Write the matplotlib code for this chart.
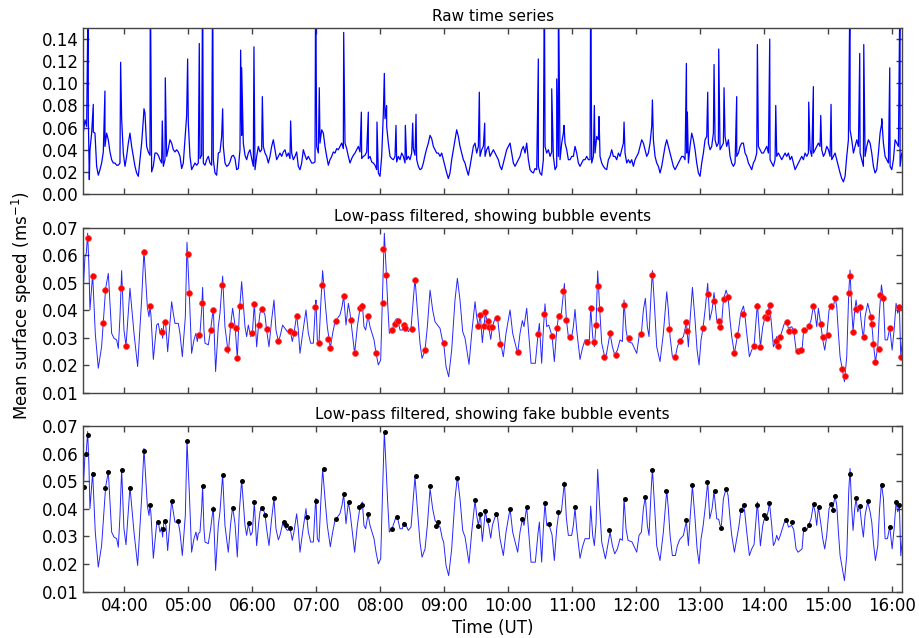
import numpy as np
import matplotlib
matplotlib.use('Agg')
import matplotlib.pyplot as plt

# raw surface speed, one sample every 93.75 s from 03:21:36 UT, in mm/s
raw_start = 3.36
raw_step = 93.75 / 3600.
raw_mms = [
    55, 67, 61, 70, 40, 55, 56, 55, 25, 17, 22, 28, 38, 43, 55, 49, 38, 31, 28, 28,
    26, 26, 28, 68, 37, 25, 34, 46, 55, 43, 34, 25, 19, 16, 31, 46, 67, 73, 43, 38,
    35, 20, 25, 37, 37, 35, 31, 28, 25, 31, 34, 41, 49, 46, 40, 38, 40, 38, 34, 23,
    28, 49, 71, 64, 34, 22, 25, 28, 26, 28, 32, 35, 28, 26, 31, 34, 28, 26, 31, 19,
    17, 37, 38, 52, 43, 28, 25, 26, 29, 34, 35, 32, 22, 23, 40, 53, 46, 35, 31, 37,
    40, 32, 25, 22, 34, 43, 38, 40, 43, 37, 34, 28, 34, 43, 49, 40, 31, 34, 37, 34,
    38, 40, 34, 37, 32, 37, 31, 34, 38, 25, 22, 28, 40, 35, 31, 34, 31, 28, 28, 29,
    43, 37, 46, 58, 55, 43, 34, 26, 31, 34, 38, 37, 41, 40, 43, 46, 41, 46, 41, 34,
    28, 32, 35, 37, 40, 43, 38, 32, 34, 35, 38, 32, 34, 29, 28, 26, 22, 19, 16, 34,
    73, 68, 61, 46, 34, 32, 31, 34, 29, 34, 31, 37, 34, 28, 31, 34, 31, 37, 41, 35,
    31, 25, 22, 23, 28, 35, 41, 46, 53, 50, 43, 40, 37, 37, 34, 37, 31, 25, 19, 14,
    19, 31, 40, 49, 58, 52, 43, 37, 31, 28, 22, 17, 25, 34, 43, 46, 37, 43, 34, 40,
    43, 34, 40, 43, 34, 37, 40, 37, 34, 31, 25, 22, 28, 34, 40, 43, 46, 37, 28, 25,
    28, 31, 34, 40, 43, 37, 46, 31, 22, 20, 19, 23, 22, 25, 19, 17, 31, 43, 37, 40,
    34, 38, 34, 22, 25, 34, 31, 46, 55, 46, 40, 31, 31, 34, 34, 43, 37, 28, 25, 28,
    31, 31, 34, 31, 31, 28, 34, 37, 52, 49, 34, 28, 25, 23, 22, 31, 34, 40, 34, 34,
    31, 37, 34, 40, 46, 37, 28, 31, 28, 31, 25, 31, 34, 37, 43, 49, 46, 40, 34, 37,
    46, 61, 49, 34, 28, 25, 19, 25, 34, 43, 49, 43, 37, 31, 25, 22, 25, 28, 31, 34,
    34, 31, 37, 28, 43, 55, 49, 40, 28, 19, 16, 28, 37, 49, 52, 46, 40, 43, 55, 49,
    43, 46, 40, 43, 46, 52, 43, 49, 34, 28, 25, 28, 34, 37, 43, 46, 46, 37, 34, 28,
    25, 22, 28, 31, 37, 43, 40, 37, 37, 40, 43, 37, 31, 28, 25, 31, 34, 37, 34, 31,
    34, 37, 34, 37, 31, 34, 28, 22, 25, 28, 31, 34, 31, 37, 34, 37, 40, 34, 37, 40,
    43, 46, 43, 40, 34, 37, 43, 40, 34, 31, 34, 37, 31, 25, 19, 14, 11, 16, 34, 49,
    58, 49, 37, 43, 49, 43, 37, 31, 25, 34, 43, 49, 46, 37, 25, 19, 22, 37, 55, 64,
    46, 34, 31, 28, 25, 22, 31, 49, 46, 43, 25, 37,
]

# single-sample spikes in the raw series (hour UT, m/s)
spike_hr = [3.438, 3.454, 3.516, 3.698, 3.943, 4.308, 4.407, 4.594, 4.641, 4.990,
            5.172, 5.224, 5.381, 5.537, 5.818, 5.834, 6.026, 6.157, 6.599, 6.990,
            7.047, 7.428, 7.704, 7.813, 7.948, 8.063, 8.099, 8.245, 8.391, 8.506,
            8.558, 9.547, 9.631, 10.469, 10.563, 10.678, 10.756, 10.782, 10.870, 11.287,
            11.344, 11.417, 11.808, 12.251, 12.782, 12.797, 13.115, 13.214, 13.287, 13.370,
            13.568, 13.891, 14.084, 14.178, 14.693, 14.766, 14.881, 15.042, 15.339, 15.490,
            15.553, 15.834, 15.959, 16.120]
spike_val = [0.200, 0.013, 0.081, 0.093, 0.119, 0.077, 0.200, 0.066, 0.105, 0.122,
             0.136, 0.200, 0.200, 0.077, 0.130, 0.114, 0.133, 0.088, 0.066, 0.200,
             0.096, 0.146, 0.074, 0.074, 0.065, 0.109, 0.080, 0.062, 0.062, 0.064,
             0.072, 0.092, 0.064, 0.122, 0.200, 0.095, 0.104, 0.200, 0.062, 0.200,
             0.080, 0.070, 0.065, 0.085, 0.118, 0.074, 0.092, 0.117, 0.131, 0.096,
             0.088, 0.135, 0.140, 0.080, 0.083, 0.097, 0.071, 0.081, 0.200, 0.127,
             0.135, 0.068, 0.114, 0.200]

# low-pass filtered speed (hour UT, m/s)
filt_hr = [
    3.360, 3.386, 3.407, 3.428, 3.448, 3.464, 3.506, 3.547, 3.594, 3.646,
    3.672, 3.709, 3.751, 3.803, 3.839, 3.881, 3.907, 3.933, 3.959, 3.995,
    4.027, 4.058, 4.089, 4.152, 4.209, 4.271, 4.308, 4.360, 4.386, 4.402,
    4.417, 4.454, 4.506, 4.532, 4.558, 4.584, 4.599, 4.620, 4.651, 4.678,
    4.740, 4.766, 4.792, 4.844, 4.870, 4.907, 4.954, 4.980, 5.016, 5.052,
    5.089, 5.120, 5.141, 5.157, 5.183, 5.209, 5.224, 5.245, 5.261, 5.313,
    5.349, 5.391, 5.427, 5.469, 5.495, 5.537, 5.573, 5.625, 5.662, 5.693,
    5.730, 5.766, 5.797, 5.834, 5.886, 5.912, 5.938, 5.975, 6.001, 6.032,
    6.068, 6.099, 6.120, 6.151, 6.198, 6.224, 6.261, 6.302, 6.339, 6.370,
    6.407, 6.433, 6.474, 6.547, 6.594, 6.625, 6.651, 6.693, 6.719, 6.745,
    6.787, 6.839, 6.876, 6.912, 6.954, 6.985, 6.995, 7.016, 7.042, 7.068,
    7.099, 7.136, 7.172, 7.219, 7.256, 7.292, 7.370, 7.402, 7.428, 7.464,
    7.501, 7.527, 7.563, 7.599, 7.641, 7.683, 7.719, 7.745, 7.771, 7.808,
    7.839, 7.902, 7.933, 7.969, 8.006, 8.032, 8.063, 8.089, 8.115, 8.141,
    8.183, 8.235, 8.266, 8.308, 8.344, 8.370, 8.402, 8.438, 8.480, 8.516,
    8.542, 8.579, 8.620, 8.652, 8.699, 8.735, 8.777, 8.818, 8.855, 8.933,
    8.969, 8.990, 9.027, 9.068, 9.115, 9.167, 9.204, 9.245, 9.287, 9.324,
    9.386, 9.428, 9.480, 9.506, 9.532, 9.563, 9.594, 9.620, 9.641, 9.662,
    9.694, 9.725, 9.751, 9.792, 9.829, 9.870, 9.922, 9.964, 10.027, 10.068,
    10.146, 10.183, 10.219, 10.245, 10.287, 10.318, 10.355, 10.422, 10.464, 10.485,
    10.521, 10.547, 10.573, 10.600, 10.631, 10.683, 10.719, 10.756, 10.787, 10.829,
    10.876, 10.907, 10.938, 10.990, 11.016, 11.042, 11.068, 11.120, 11.157, 11.198,
    11.266, 11.287, 11.318, 11.344, 11.370, 11.396, 11.428, 11.459, 11.516, 11.553,
    11.589, 11.626, 11.662, 11.704, 11.745, 11.782, 11.808, 11.839, 11.870, 11.933,
    12.006, 12.042, 12.079, 12.110, 12.141, 12.172, 12.198, 12.230, 12.251, 12.287,
    12.318, 12.370, 12.422, 12.475, 12.500, 12.527, 12.563, 12.610, 12.641, 12.678,
    12.735, 12.782, 12.813, 12.839, 12.876, 12.917, 12.949, 12.980, 13.011, 13.042,
    13.074, 13.115, 13.147, 13.183, 13.214, 13.256, 13.287, 13.308, 13.329, 13.360,
    13.402, 13.433, 13.464, 13.490, 13.532, 13.568, 13.600, 13.631, 13.673, 13.693,
    13.725, 13.766, 13.803, 13.839, 13.870, 13.891, 13.917, 13.938, 13.975, 14.011,
    14.037, 14.063, 14.079, 14.115, 14.141, 14.167, 14.193, 14.219, 14.245, 14.313,
    14.350, 14.376, 14.428, 14.459, 14.496, 14.527, 14.589, 14.610, 14.636, 14.662,
    14.693, 14.730, 14.766, 14.792, 14.818, 14.844, 14.881, 14.912, 14.943, 14.974,
    15.011, 15.042, 15.068, 15.105, 15.131, 15.157, 15.183, 15.219, 15.251, 15.287,
    15.318, 15.339, 15.365, 15.386, 15.412, 15.433, 15.459, 15.490, 15.522, 15.547,
    15.574, 15.615, 15.652, 15.678, 15.704, 15.735, 15.772, 15.797, 15.829, 15.860,
    15.886, 15.923, 15.959, 15.996, 16.027, 16.058, 16.084, 16.110, 16.131, 16.157,
]
filt_val = [
    .0480, .0595, .0607, .0680, .0558, .0401, .0532, .0316, .0189, .0267,
    .0355, .0480, .0534, .0316, .0298, .0292, .0261, .0376, .0544, .0328,
    .0270, .0376, .0480, .0316, .0195, .0437, .0619, .0413, .0376, .0415,
    .0382, .0221, .0346, .0352, .0316, .0334, .0298, .0358, .0340, .0249,
    .0431, .0389, .0352, .0352, .0316, .0231, .0376, .0647, .0461, .0243,
    .0292, .0316, .0286, .0310, .0316, .0401, .0483, .0328, .0280, .0274,
    .0328, .0407, .0177, .0340, .0389, .0524, .0340, .0243, .0346, .0407,
    .0346, .0226, .0389, .0504, .0340, .0304, .0346, .0304, .0316, .0425,
    .0267, .0347, .0389, .0407, .0383, .0328, .0267, .0364, .0437, .0328,
    .0288, .0304, .0346, .0322, .0326, .0286, .0316, .0382, .0328, .0243,
    .0316, .0401, .0316, .0280, .0280, .0413, .0437, .0292, .0280, .0413,
    .0544, .0437, .0340, .0263, .0316, .0358, .0383, .0413, .0452, .0346,
    .0425, .0389, .0316, .0243, .0340, .0408, .0425, .0340, .0328, .0380,
    .0340, .0292, .0244, .0201, .0219, .0437, .0680, .0558, .0425, .0316,
    .0327, .0364, .0370, .0328, .0328, .0352, .0340, .0322, .0334, .0437,
    .0516, .0401, .0280, .0225, .0255, .0340, .0473, .0401, .0358, .0334,
    .0292, .0280, .0195, .0158, .0255, .0437, .0516, .0437, .0322, .0298,
    .0203, .0316, .0431, .0376, .0341, .0383, .0282, .0343, .0392, .0364,
    .0340, .0294, .0340, .0370, .0377, .0292, .0231, .0316, .0401, .0316,
    .0243, .0316, .0362, .0340, .0407, .0316, .0207, .0207, .0312, .0352,
    .0207, .0328, .0423, .0340, .0346, .0306, .0213, .0328, .0383, .0389,
    .0497, .0366, .0304, .0304, .0340, .0403, .0328, .0221, .0261, .0292,
    .0292, .0410, .0304, .0267, .0345, .0543, .0403, .0280, .0219, .0267,
    .0316, .0267, .0237, .0255, .0292, .0286, .0437, .0328, .0286, .0280,
    .0243, .0304, .0316, .0401, .0443, .0340, .0304, .0461, .0544, .0401,
    .0267, .0213, .0316, .0467, .0401, .0304, .0231, .0231, .0267, .0289,
    .0304, .0356, .0267, .0364, .0483, .0364, .0255, .0201, .0292, .0336,
    .0401, .0498, .0364, .0401, .0464, .0364, .0362, .0340, .0340, .0437,
    .0473, .0449, .0364, .0304, .0243, .0292, .0334, .0389, .0415, .0389,
    .0316, .0231, .0255, .0271, .0364, .0425, .0340, .0266, .0340, .0375,
    .0370, .0395, .0425, .0340, .0267, .0280, .0304, .0286, .0301, .0352,
    .0358, .0334, .0340, .0324, .0255, .0243, .0255, .0316, .0334, .0322,
    .0341, .0364, .0415, .0389, .0340, .0407, .0349, .0292, .0255, .0304,
    .0401, .0415, .0401, .0446, .0413, .0316, .0231, .0182, .0140, .0231,
    .0463, .0546, .0401, .0322, .0401, .0437, .0389, .0410, .0340, .0298,
    .0377, .0425, .0389, .0352, .0277, .0213, .0267, .0389, .0492, .0437,
    .0292, .0292, .0336, .0255, .0328, .0425, .0389, .0410, .0230, .0292,
]

# detected bubble events (hour UT, m/s)
bubble_hr = [
    3.438, 3.516, 3.672, 3.698, 3.943, 4.027, 4.308, 4.402, 4.589, 4.641,
    4.990, 5.011, 5.172, 5.219, 5.360, 5.381, 5.527, 5.600, 5.672, 5.740,
    5.766, 5.813, 6.000, 6.027, 6.100, 6.152, 6.230, 6.407, 6.594, 6.652,
    6.693, 6.985, 7.042, 7.084, 7.188, 7.220, 7.313, 7.428, 7.537, 7.599,
    7.683, 7.709, 7.808, 7.933, 8.037, 8.047, 8.094, 8.183, 8.235, 8.277,
    8.365, 8.391, 8.495, 8.547, 8.703, 8.990, 9.532, 9.563, 9.620, 9.641,
    9.678, 9.693, 9.750, 9.829, 9.875, 10.146, 10.464, 10.563, 10.683, 10.761,
    10.787, 10.860, 10.907, 10.969, 11.235, 11.287, 11.344, 11.370, 11.396, 11.428,
    11.490, 11.589, 11.678, 11.808, 11.886, 12.079, 12.250, 12.516, 12.610, 12.678,
    12.782, 12.797, 13.042, 13.115, 13.214, 13.287, 13.308, 13.365, 13.428, 13.532,
    13.573, 13.662, 13.839, 13.891, 13.938, 14.011, 14.037, 14.063, 14.084, 14.178,
    14.209, 14.245, 14.350, 14.391, 14.459, 14.527, 14.579, 14.620, 14.693, 14.766,
    14.881, 14.922, 14.990, 15.042, 15.105, 15.209, 15.266, 15.318, 15.334, 15.386,
    15.438, 15.490, 15.553, 15.662, 15.683, 15.704, 15.735, 15.787, 15.813, 15.850,
    15.959, 16.110, 16.131,
]
bubble_val = [
    .0661, .0525, .0355, .0473, .0481, .0270, .0610, .0415, .0322, .0356,
    .0606, .0464, .0310, .0425, .0329, .0401, .0492, .0258, .0347, .0334,
    .0226, .0414, .0316, .0424, .0347, .0404, .0330, .0288, .0325, .0316,
    .0380, .0413, .0280, .0492, .0296, .0263, .0361, .0452, .0363, .0243,
    .0409, .0417, .0380, .0244, .0427, .0621, .0527, .0327, .0350, .0361,
    .0345, .0335, .0332, .0509, .0257, .0280, .0341, .0383, .0343, .0392,
    .0361, .0340, .0340, .0373, .0277, .0247, .0312, .0387, .0305, .0336,
    .0379, .0471, .0366, .0301, .0286, .0407, .0286, .0345, .0488, .0403,
    .0231, .0316, .0236, .0418, .0299, .0314, .0528, .0330, .0231, .0289,
    .0356, .0326, .0336, .0460, .0435, .0362, .0340, .0440, .0448, .0243,
    .0311, .0387, .0271, .0414, .0266, .0375, .0370, .0393, .0420, .0288,
    .0271, .0301, .0358, .0324, .0324, .0252, .0255, .0328, .0341, .0415,
    .0349, .0304, .0311, .0415, .0446, .0186, .0162, .0463, .0526, .0322,
    .0406, .0410, .0303, .0374, .0351, .0277, .0213, .0260, .0454, .0446,
    .0336, .0410, .0230,
]

# randomly placed fake events (hour UT, m/s)
fake_hr = [
    3.370, 3.402, 3.433, 3.516, 3.704, 3.750, 3.964, 4.094, 4.308, 4.402,
    4.527, 4.600, 4.641, 4.740, 4.834, 4.980, 5.235, 5.381, 5.542, 5.693,
    5.834, 5.948, 6.032, 6.157, 6.193, 6.334, 6.490, 6.527, 6.589, 6.850,
    6.995, 7.115, 7.303, 7.428, 7.511, 7.667, 7.709, 7.813, 8.068, 8.183,
    8.261, 8.375, 8.558, 8.782, 8.870, 8.901, 9.203, 9.474, 9.527, 9.558,
    9.641, 9.678, 9.813, 10.027, 10.214, 10.287, 10.573, 10.641, 10.771, 10.870,
    11.047, 11.579, 11.818, 12.136, 12.245, 12.469, 12.782, 12.875, 13.105, 13.225,
    13.318, 13.407, 13.631, 13.678, 13.891, 14.000, 14.027, 14.079, 14.339, 14.433,
    14.620, 14.698, 14.771, 14.849, 15.042, 15.068, 15.110, 15.334, 15.428, 15.495,
    15.615, 15.834, 15.959, 16.053, 16.105,
]
fake_val = [
    .0480, .0599, .0666, .0526, .0475, .0532, .0542, .0477, .0610, .0414,
    .0354, .0328, .0357, .0430, .0357, .0644, .0481, .0398, .0524, .0403,
    .0500, .0349, .0424, .0403, .0376, .0438, .0352, .0342, .0330, .0369,
    .0428, .0543, .0363, .0455, .0426, .0405, .0415, .0380, .0680, .0328,
    .0372, .0345, .0519, .0481, .0339, .0352, .0512, .0431, .0339, .0382,
    .0393, .0361, .0381, .0400, .0363, .0407, .0422, .0346, .0387, .0490,
    .0407, .0323, .0436, .0443, .0542, .0466, .0358, .0485, .0496, .0465,
    .0330, .0471, .0397, .0414, .0414, .0376, .0368, .0421, .0358, .0351,
    .0328, .0343, .0418, .0407, .0416, .0397, .0445, .0526, .0439, .0409,
    .0427, .0487, .0335, .0426, .0413,
]

hour_ticks = [4, 5, 6, 7, 8, 9, 10, 11, 12, 13, 14, 15, 16]
hour_labels = ['%02d:00' % h for h in hour_ticks]
t_min, t_max = 3.36, 16.155

# merge the spikes into the raw record
raw_t = raw_start + raw_step * np.arange(len(raw_mms))
raw_all_t = np.concatenate([raw_t, spike_hr])
raw_all_v = np.concatenate([np.array(raw_mms) / 1000., spike_val])
order = np.argsort(raw_all_t)
raw_all_t, raw_all_v = raw_all_t[order], raw_all_v[order]

plt.rcParams['font.family'] = 'DejaVu Sans'
plt.rcParams['axes.edgecolor'] = '#444444'
plt.rcParams['axes.linewidth'] = 1.0

fig = plt.figure(figsize=(9.19, 6.38), dpi=100)
W, H = 919., 638.
left, right = 83.3 / W, 902.3 / W
rects = [(28, 194), (227.7, 392.7), (426, 591.7)]
axes = [fig.add_axes([left, 1 - b / H, right - left, (b - t) / H]) for t, b in rects]
ax1, ax2, ax3 = axes

ax1.plot(raw_all_t, raw_all_v, color='b', lw=0.9)
ax1.set_ylim(0, 0.15)
ax1.set_yticks(np.arange(0, 0.141, 0.02))
ax1.set_title('Raw time series', fontsize=11, pad=5)

ax2.plot(filt_hr, filt_val, color='b', lw=0.7, alpha=0.85)
ax2.plot(bubble_hr, bubble_val, 'o', color='r', ms=4.2, mec='#ff4040', mew=0.5)
ax2.set_title('Low-pass filtered, showing bubble events', fontsize=11, pad=5)

ax3.plot(filt_hr, filt_val, color='b', lw=0.7, alpha=0.85)
ax3.plot(fake_hr, fake_val, 'o', color='k', ms=3.6, mew=0)
ax3.set_title('Low-pass filtered, showing fake bubble events', fontsize=11, pad=5)

for ax in (ax2, ax3):
    ax.set_ylim(0.01, 0.07)
    ax.set_yticks(np.arange(0.01, 0.0701, 0.01))

for ax in axes:
    ax.set_xlim(t_min, t_max)
    ax.set_xticks(hour_ticks)
    ax.tick_params(direction='in', top=True, right=True, length=4,
                   width=1, color='#444444', labelsize=12)
    ax.yaxis.set_major_formatter(plt.FormatStrFormatter('%.2f'))
    ax.set_xticklabels([])

ax3.set_xticklabels(hour_labels)
ax3.set_xlabel('Time (UT)', fontsize=12, labelpad=3)
fig.text(0.024, 1 - 305 / H, 'Mean surface speed (ms$^{-1}$)', rotation=90,
         ha='center', va='center', fontsize=12)

plt.savefig('out.png', dpi=100)
